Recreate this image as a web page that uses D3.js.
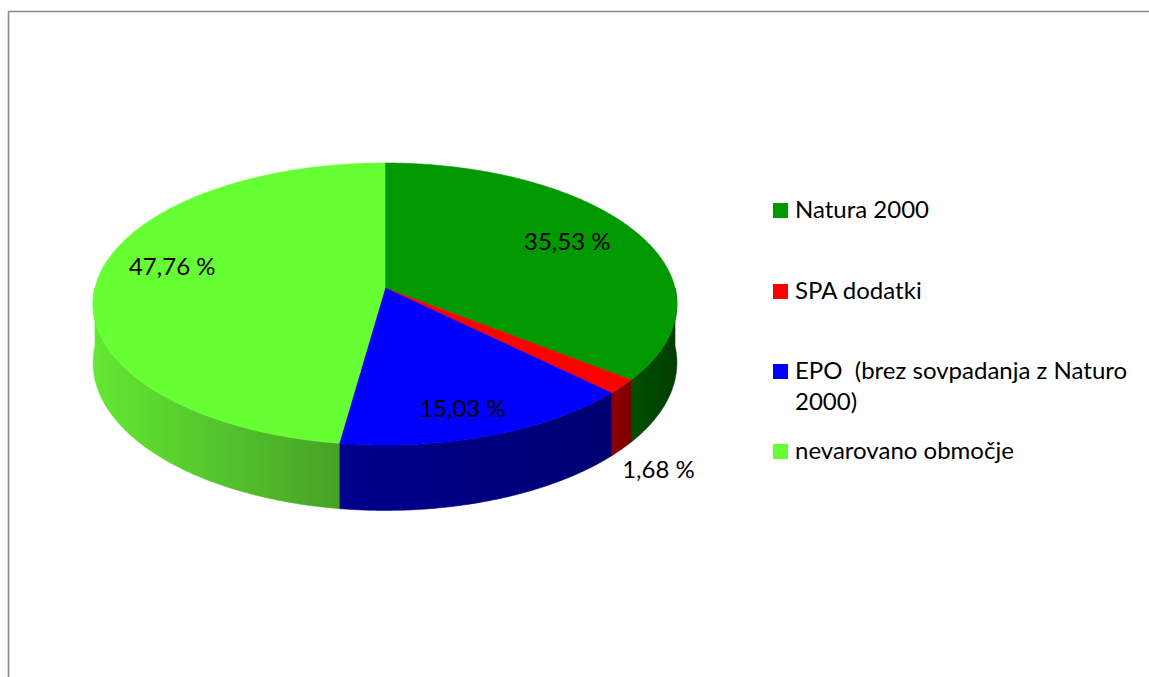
<!DOCTYPE html>
<html>
<head>
<meta charset="utf-8">
<script src="https://cdn.jsdelivr.net/npm/d3@7"></script>
<style>
  html, body { margin: 0; background: #fff; overflow: hidden; }
  svg { display: block; }
  text { font-family: Lato, "Open Sans", sans-serif; fill: #000; }
</style>
</head>
<body>
<div id="chart"></div>
<script>
// data
var categories = ["Natura 2000", "SPA dodatki", "EPO  (brez sovpadanja z Naturo 2000)", "nevarovano območje"];
var values = [35.53, 1.68, 15.03, 47.76];
var valueLabels = ["35,53 %", "1,68 %", "15,03 %", "47,76 %"];

var width = 1149;
var height = 677;

// colours: top face, wall light end, wall dark end
var topColors = ["#009900", "#ff0000", "#0000ff", "#66ff33"];
var wallColors = [["#005000", "#003c00"], ["#920000", "#780000"], ["#00008e", "#000072"], ["#63e833", "#46a226"]];

// pseudo 3d geometry
var cx = 385, cy = 288;
var R = 290, B = 139.2, k = 0.1135, depth = 58;

var svg = d3.select("#chart")
  .append("svg")
  .attr("width", width)
  .attr("height", height);

// chart area border: only top and left edges are inside the window
svg.append("path")
  .attr("d", "M8.5," + height + "V11.5H" + width)
  .attr("fill", "none")
  .attr("stroke", "#8a8a8a")
  .attr("stroke-width", 1.6);

// angle a: 0 at 12 o'clock, clockwise. f: radius fraction, h: drop below top
function proj(a, f, h) {
  var s = Math.sin(a) * f;
  var c = -Math.cos(a) * f;
  var sc = 1 / (1 - k * c);
  return [cx + R * s * sc, cy + B * c * sc + h * (1 / (1 + k * Math.cos(a)))];
}

function rim(a0, a1, h) {
  var n = Math.max(2, Math.ceil((a1 - a0) / 0.01));
  return d3.range(n + 1).map(function(i) {
    return proj(a0 + (a1 - a0) * i / n, 1, h);
  });
}

var pie = d3.pie().sort(null).startAngle(0).endAngle(2 * Math.PI);
var arcs = pie(values);

var defs = svg.append("defs");
wallColors.forEach(function(c, i) {
  var g = defs.append("linearGradient")
    .attr("id", "wall" + i)
    .attr("x1", "0").attr("x2", "1").attr("y1", "0").attr("y2", "0");
  g.append("stop").attr("offset", "0").attr("stop-color", c[0]);
  g.append("stop").attr("offset", "1").attr("stop-color", c[1]);
});

var line = d3.line();

// outer walls, only the front half is visible
var walls = svg.append("g");
arcs.forEach(function(d, i) {
  var a0 = Math.max(d.startAngle, Math.PI / 2);
  var a1 = Math.min(d.endAngle, 3 * Math.PI / 2);
  if (a1 <= a0) return;
  var pts = rim(a0, a1, 0).concat(rim(a0, a1, depth).reverse());
  walls.append("path")
    .attr("d", line(pts) + "Z")
    .attr("fill", "url(#wall" + i + ")")
    .attr("stroke", "url(#wall" + i + ")")
    .attr("stroke-width", 0.6);
});

// top faces
var tops = svg.append("g");
arcs.forEach(function(d, i) {
  var pts = [[cx, cy]].concat(rim(d.startAngle, d.endAngle, 0));
  tops.append("path")
    .attr("d", line(pts) + "Z")
    .attr("fill", topColors[i])
    .attr("stroke", topColors[i])
    .attr("stroke-width", 0.6);
});

// data labels
var labelFrac = [0.7, 1.1, 0.7, 0.74];
var labelNudge = [[6, -5], [11, 3], [6, 21], [0, -14]];
arcs.forEach(function(d, i) {
  var mid = (d.startAngle + d.endAngle) / 2;
  var p = proj(mid, labelFrac[i], labelFrac[i] > 1 ? depth : 0);
  if (labelFrac[i] > 1) p[1] += 6;
  svg.append("text")
    .attr("x", p[0] + labelNudge[i][0])
    .attr("y", p[1] + labelNudge[i][1])
    .attr("dy", "0.36em")
    .attr("text-anchor", "middle")
    .style("font-size", "24px")
    .text(valueLabels[i]);
});

// legend
var legendRows = [[218], [299], [379, 410], [459]];
var legendLines = [["Natura 2000"], ["SPA dodatki"], ["EPO  (brez sovpadanja z Naturo", "2000)"], ["nevarovano območje"]];
var legend = svg.append("g");
categories.forEach(function(c, i) {
  legend.append("rect")
    .attr("x", 773)
    .attr("y", legendRows[i][0] - 15)
    .attr("width", 15)
    .attr("height", 15)
    .attr("fill", topColors[i]);
  legendLines[i].forEach(function(t, j) {
    legend.append("text")
      .attr("x", 795)
      .attr("y", legendRows[i][j])
      .style("font-size", "24px")
      .style("white-space", "pre")
      .attr("xml:space", "preserve")
      .text(t);
  });
});
</script>
</body>
</html>
